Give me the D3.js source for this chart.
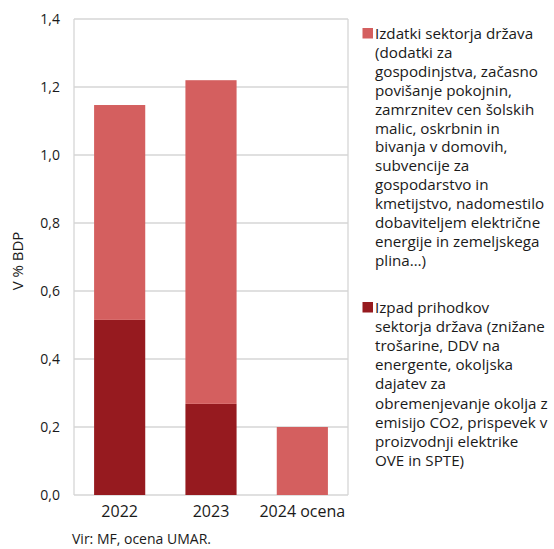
<!DOCTYPE html>
<html><head><meta charset="utf-8">
<script src="https://cdn.jsdelivr.net/npm/d3@7"></script>
<style>body{margin:0;background:#fff;} text{font-family:"Open Sans",sans-serif;fill:#1a1a1a;}</style>
</head><body>
<svg id="c" width="554" height="549"></svg>
<script>
const categories = ["2022", "2023", "2024 ocena"];
const revenueLoss = [0.515, 0.268, 0.0];   // Izpad prihodkov (dark)
const expenditure = [0.632, 0.952, 0.2];   // Izdatki (light)
const yTicks = [0, 0.2, 0.4, 0.6, 0.8, 1.0, 1.2, 1.4];
const legend1 = ["Izdatki sektorja država", "(dodatki za", "gospodinjstva, začasno", "povišanje pokojnin,", "zamrznitev cen šolskih", "malic, oskrbnin in", "bivanja v domovih,", "subvencije za", "gospodarstvo in", "kmetijstvo, nadomestilo", "dobaviteljem električne", "energije in zemeljskega", "plina…)"];
const legend2 = ["Izpad prihodkov", "sektorja država (znižane", "trošarine, DDV na", "energente, okoljska", "dajatev za", "obremenjevanje okolja z", "emisijo CO2, prispevek v", "proizvodnji elektrike", "OVE in SPTE)"];

const colLight = "#d45f5f", colDark = "#961a1f", grid = "#d6d6d6";
const svg = d3.select("#c");
const L = 74, R = 348, T = 19, B = 495;
const x = d3.scaleBand().domain(categories).range([L, R]).paddingInner(0.44).paddingOuter(0.22);
const y = d3.scaleLinear().domain([0, 1.4]).range([B, T]);
const fmt = d => d3.format(".1f")(d).replace(".", ",");

// grid
svg.append("g").selectAll("line").data(yTicks).join("line")
  .attr("x1", L).attr("x2", R).attr("y1", d => y(d)).attr("y2", d => y(d))
  .attr("stroke", grid).attr("stroke-width", 1.3);
svg.append("line").attr("x1", L).attr("x2", L).attr("y1", T).attr("y2", B).attr("stroke", grid).attr("stroke-width", 1.3);
svg.append("line").attr("x1", R).attr("x2", R).attr("y1", T).attr("y2", B).attr("stroke", grid).attr("stroke-width", 1.3);

// bars
const stack = categories.map((c, i) => ({c, dark: revenueLoss[i], light: expenditure[i]}));
const series = d3.stack().keys(["dark", "light"])(stack);
const colors = {dark: colDark, light: colLight};
series.forEach(s => {
  svg.append("g").selectAll("rect").data(s).join("rect")
    .attr("x", d => x(d.data.c)).attr("width", x.bandwidth())
    .attr("y", d => y(d[1])).attr("height", d => y(d[0]) - y(d[1]))
    .attr("fill", colors[s.key]);
});

// y axis
const ya = d3.axisLeft(y).tickValues(yTicks).tickFormat(fmt).tickSize(0).tickPadding(14);
const yg = svg.append("g").attr("transform", `translate(${L},0)`).call(ya);
yg.select(".domain").remove();
yg.selectAll("text").style("font-size", "14px").style("font-family", "'Open Sans',sans-serif").attr("fill", "#1a1a1a");

// x axis
const xa = d3.axisBottom(x).tickSize(0).tickPadding(11);
const xg = svg.append("g").attr("transform", `translate(0,${B})`).call(xa);
xg.select(".domain").remove();
xg.selectAll("text").style("font-size", "16px").style("font-family", "'Open Sans',sans-serif").attr("fill", "#1a1a1a");

// y title
svg.append("text").attr("transform", "translate(23,261) rotate(-90)").attr("text-anchor", "middle")
  .style("font-size", "15px").text("V % BDP");

// source
svg.append("text").attr("x", 72).attr("y", 544).style("font-size", "14px").text("Vir: MF, ocena UMAR.");

// legend
function legend(lines, color, y0, lh) {
  svg.append("rect").attr("x", 362.5).attr("y", y0 - 11).attr("width", 10.5).attr("height", 10.5).attr("fill", color);
  const t = svg.append("text").attr("x", 375).attr("y", y0).style("font-size", "15.2px");
  lines.forEach((l, i) => t.append("tspan").attr("x", 375).attr("y", y0 + i * lh).text(l));
}
legend(legend1, colLight, 39, 18.9);
legend(legend2, colDark, 313, 19.1);
</script>
</body></html>
